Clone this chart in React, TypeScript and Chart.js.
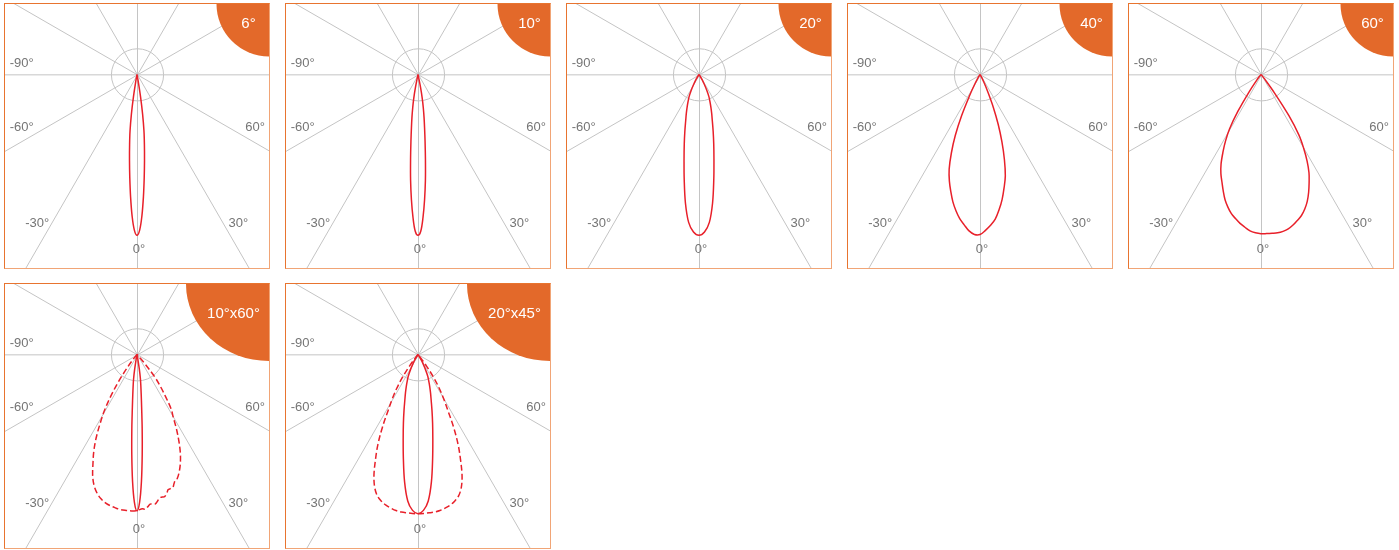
import React, { useEffect, useRef } from "react";
import { Chart, registerables } from "chart.js";

Chart.register(...registerables);

// ---------------- data ----------------
const PANEL_TITLES = ["6°", "10°", "20°", "40°", "60°", "10°x60°", "20°x45°"];
const ANGLE_LABELS = ["-90°", "-60°", "-30°", "0°", "30°", "60°"];
const SPOKE_ANGLES = [0, 30, 60, 90, 120, 150];
const GUIDE_CIRCLE_R = 16.2;

// angles in degrees (0 = straight down), values = relative intensity (%)
const ANG_6 = [-11, -10, -9, -8, -7, -6, -5, -4, -3, -2, -1, 0, 1, 2, 3, 4, 5, 6, 7, 8, 9, 10, 11];
const VAL_6 = [0, 4, 14, 25, 35.5, 44, 53.5, 64.3, 76.2, 87.8, 96.6, 100, 96.6, 87.8, 76.2, 64.3, 53.5, 44, 35.5, 25, 14, 4, 0];

const ANG_10 = [-12, -11, -10, -9, -8, -7, -6, -5, -4, -3, -2, -1, 0, 1, 2, 3, 4, 5, 6, 7, 8, 9, 10, 11, 12];
const VAL_10 = [0, 8, 15.3, 21, 27, 33.5, 42, 53, 66, 78, 89, 97.5, 100, 97.5, 89, 78, 66, 53, 42, 33.5, 27, 21, 15.3, 8, 0];

const ANG_20 = [-32, -30, -28, -26, -24, -22, -20, -18, -16, -14, -12, -10, -8, -6, -4, -2, 0, 2, 4, 6, 8, 10, 12, 14, 16, 18, 20, 22, 24, 26, 28, 30, 32];
const VAL_20 = [0, 4, 7, 11, 15, 18, 21.5, 25.5, 30, 36.3, 44, 53.5, 66, 80.5, 92.2, 98, 100, 98, 92.2, 80.5, 66, 53.5, 44, 36.3, 30, 25.5, 21.5, 18, 15, 11, 7, 4, 0];

const ANG_40 = [-32, -30, -28, -26, -24, -22, -20, -18, -16, -14, -12, -10, -8, -6, -4, -2, 0, 2, 4, 6, 8, 10, 12, 14, 16, 18, 20, 22, 24, 26, 28, 30];
const VAL_40 = [0, 2, 7, 15, 28, 41, 52, 62, 69, 75, 81, 86, 90.5, 94, 97.5, 99.5, 99.5, 97, 94, 90.5, 85, 79, 72, 65, 55, 44, 33, 22, 12, 6, 2, 0];

const ANG_60 = [-38, -36, -34, -32, -30, -28, -26, -24, -22, -20, -18, -16, -14, -12, -10, -8, -6, -4, -2, 0, 2, 4, 6, 8, 10, 12, 14, 16, 18, 20, 22, 24, 26, 28, 30, 32, 34, 36, 38, 40];
const VAL_60 = [0, 5, 14, 27, 39, 47, 54, 61, 66.5, 71, 76, 81, 85, 88.5, 91, 93.5, 95.5, 97.5, 98.5, 99, 99, 99, 99, 98.5, 97.5, 95.7, 93.5, 91.2, 88, 84, 79, 73.5, 68, 61, 53, 44.5, 31, 14, 3, 0];

const ANG_10X60_H = [-11, -10, -9, -8, -7, -6, -5, -4, -3, -2, -1, 0, 1, 2, 3, 4, 5, 6, 7, 8, 9, 10, 11];
const VAL_10X60_H = [0, 3, 9, 15, 19.5, 25, 33, 46, 62, 79, 92, 97.3, 92, 79, 62, 46, 33, 25, 19.5, 15, 9, 3, 0];

const ANG_10X60_V = [-40, -38, -36, -34, -32, -30, -28, -26, -24, -22, -20, -18, -16, -14, -12, -10, -8, -6, -4, -2, 0, 2, 3, 4, 5, 6, 7, 8, 9, 10, 11, 12, 13, 14, 15, 16, 17, 18, 20, 22, 24, 26, 28, 30, 32, 34, 36, 38, 40, 42];
const VAL_10X60_V = [0, 3, 11, 21, 31, 40.7, 49, 58, 66, 73, 80.5, 86, 89.8, 92.5, 94.3, 95.5, 96.3, 97, 97.2, 97.3, 97, 96, 96.3, 95, 93.4, 93.5, 93.6, 92, 90.2, 90, 90, 88.5, 86.2, 86, 85.8, 83.5, 81.5, 81, 77, 72, 66, 59, 52, 45, 40, 32, 25, 18.5, 8, 0];

const ANG_20X45_H = [-32, -30, -28, -26, -24, -22, -20, -18, -16, -14, -12, -10, -8, -6, -4, -2, 0, 2, 4, 6, 8, 10, 12, 14, 16, 18, 20, 22, 24, 26, 28, 30, 32];
const VAL_20X45_H = [0, 4, 6.9, 10.9, 14.9, 17.8, 21.3, 25.2, 29.7, 35.9, 43.6, 53, 65.3, 79.7, 91.3, 97, 99, 97, 91.3, 79.7, 65.3, 53, 43.6, 35.9, 29.7, 25.2, 21.3, 17.8, 14.9, 10.9, 6.9, 4, 0];

const ANG_20X45_V = [-38, -36, -34, -32, -30, -28, -26, -24, -22, -20, -18, -16, -14, -12, -10, -8, -6, -4, -2, 0, 2, 4, 6, 8, 10, 12, 14, 16, 18, 20, 22, 24, 26, 28, 30, 32, 34, 36, 38];
const VAL_20X45_V = [0, 9, 17.5, 25, 32, 39.6, 50.5, 61.2, 70.5, 80, 87, 91.5, 94, 95.8, 97, 98, 98.5, 98.7, 98.9, 99, 98.9, 98.7, 98.5, 98, 97, 95.8, 94, 91.5, 87, 80, 70.5, 61.2, 50.5, 39.6, 32, 25, 17.5, 9, 0];

// ---------------- layout / style ----------------
const RED = "#E8202A";
const GRID = "#C4C4C4";
const LABEL_COLOR = "#757575";
const BADGE = "#E3692A";
const INNER = 264;
const X_RANGE = [-82, 82];
const Y_RANGE = [-120.3, 43.7];
const LABEL_POS = [
  [-71.6, 6.7],
  [-71.6, -33.0],
  [-62.0, -92.4],
  [1.2, -108.8],
  [63.0, -92.4],
  [73.3, -33.0],
];

type Curve = { ang: number[]; val: number[]; dashed?: boolean };

const PANEL_CURVES: Curve[][] = [
  [{ ang: ANG_6, val: VAL_6 }],
  [{ ang: ANG_10, val: VAL_10 }],
  [{ ang: ANG_20, val: VAL_20 }],
  [{ ang: ANG_40, val: VAL_40 }],
  [{ ang: ANG_60, val: VAL_60 }],
  [
    { ang: ANG_10X60_V, val: VAL_10X60_V, dashed: true },
    { ang: ANG_10X60_H, val: VAL_10X60_H },
  ],
  [
    { ang: ANG_20X45_V, val: VAL_20X45_V, dashed: true },
    { ang: ANG_20X45_H, val: VAL_20X45_H },
  ],
];

const toXY = (ang: number[], val: number[]) =>
  ang.map((a, i) => {
    const t = (a * Math.PI) / 180;
    return { x: val[i] * Math.sin(t), y: -val[i] * Math.cos(t) };
  });

function makePlugins(title: string) {
  const wide = title.length > 4;
  const rx = wide ? 83 : 52.5;
  const ry = wide ? 77 : 52.5;
  const tx = wide ? -35.5 : -20.5;
  const ty = wide ? 30 : 20;
  const grid = {
    id: "polarGrid",
    beforeDatasetsDraw(chart: any) {
      const { ctx, chartArea } = chart;
      const xs = chart.scales.x;
      const ys = chart.scales.y;
      const px = (u: number) => xs.getPixelForValue(u);
      const py = (u: number) => ys.getPixelForValue(u);
      ctx.save();
      ctx.beginPath();
      ctx.rect(chartArea.left, chartArea.top, chartArea.right - chartArea.left, chartArea.bottom - chartArea.top);
      ctx.clip();
      ctx.strokeStyle = GRID;
      ctx.lineWidth = 1;
      SPOKE_ANGLES.forEach((a) => {
        const t = (a * Math.PI) / 180;
        const R = 400;
        ctx.beginPath();
        ctx.moveTo(px(R * Math.sin(t)) + 0.5, py(-R * Math.cos(t)) + 0.5);
        ctx.lineTo(px(-R * Math.sin(t)) + 0.5, py(R * Math.cos(t)) + 0.5);
        ctx.stroke();
      });
      const cx = px(0) + 0.5;
      const cy = py(0) + 0.5;
      const r = Math.abs(px(GUIDE_CIRCLE_R) - px(0));
      ctx.beginPath();
      ctx.arc(cx, cy, r, 0, Math.PI * 2);
      ctx.stroke();
      ctx.fillStyle = LABEL_COLOR;
      ctx.font = '13px "Liberation Sans", Arial, sans-serif';
      ctx.textAlign = "center";
      ctx.textBaseline = "middle";
      ANGLE_LABELS.forEach((l, i) => {
        ctx.fillText(l, px(LABEL_POS[i][0]), py(LABEL_POS[i][1]));
      });
      ctx.restore();
    },
  };
  const badge = {
    id: "cornerBadge",
    afterDraw(chart: any) {
      const { ctx, chartArea } = chart;
      const right = chartArea.right;
      const top = chartArea.top;
      ctx.save();
      ctx.fillStyle = BADGE;
      ctx.beginPath();
      ctx.moveTo(right, top);
      ctx.ellipse(right, top, rx, ry, 0, Math.PI / 2, Math.PI);
      ctx.closePath();
      ctx.fill();
      ctx.fillStyle = "#FFFFFF";
      ctx.font = '15px "Liberation Sans", Arial, sans-serif';
      ctx.textAlign = "center";
      ctx.textBaseline = "middle";
      ctx.fillText(title, right + tx, top + ty);
      ctx.restore();
    },
  };
  return [grid, badge];
}

function Panel({ title, curves, left, top }: { title: string; curves: Curve[]; left: number; top: number }) {
  const ref = useRef<HTMLCanvasElement | null>(null);
  useEffect(() => {
    if (!ref.current) return;
    const chart = new Chart(ref.current, {
      type: "scatter",
      data: {
        datasets: curves.map((c) => ({
          data: toXY(c.ang, c.val),
          showLine: true,
          borderColor: RED,
          backgroundColor: RED,
          borderWidth: 1.5,
          borderDash: c.dashed ? [6, 3] : [],
          pointRadius: 0,
          fill: false,
          tension: 0.35,
        })),
      },
      options: {
        animation: false,
        responsive: false,
        maintainAspectRatio: false,
        events: [],
        layout: { padding: 0 },
        plugins: {
          legend: { display: false },
          tooltip: { enabled: false },
          title: { display: false },
        },
        scales: {
          x: { type: "linear", min: X_RANGE[0], max: X_RANGE[1], display: false },
          y: { type: "linear", min: Y_RANGE[0], max: Y_RANGE[1], display: false },
        },
      },
      plugins: makePlugins(title),
    } as any);
    return () => chart.destroy();
  }, [title, curves]);

  return (
    <div
      style={{
        position: "absolute",
        left,
        top,
        width: INNER,
        height: INNER,
        borderStyle: "solid",
        borderWidth: 1,
        borderColor: "#E8742F #F1A576 #F1A576 #E8742F",
        background: "#FFFFFF",
      }}
    >
      <canvas ref={ref} width={INNER} height={INNER} style={{ display: "block", width: INNER, height: INNER }} />
    </div>
  );
}

export default function App() {
  return (
    <div style={{ position: "absolute", left: 0, top: 0, width: 1399, height: 550, background: "#FFFFFF" }}>
      {PANEL_TITLES.map((t, i) => (
        <Panel
          key={t}
          title={t}
          curves={PANEL_CURVES[i]}
          left={4 + 281 * (i % 5)}
          top={3 + 280 * Math.floor(i / 5)}
        />
      ))}
    </div>
  );
}
